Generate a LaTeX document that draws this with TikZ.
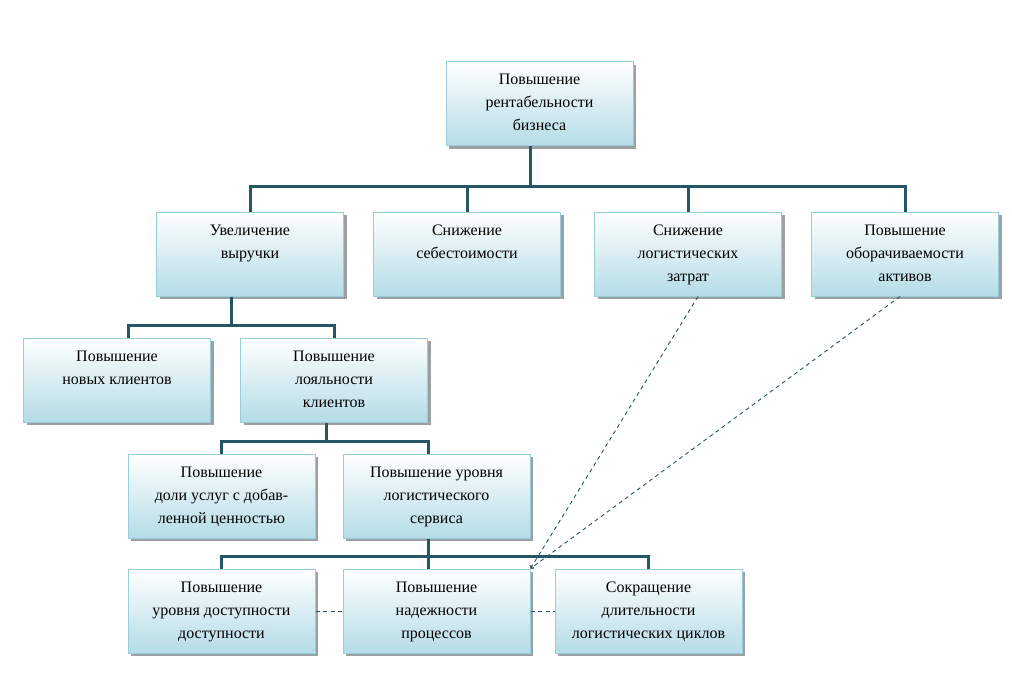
\documentclass[tikz,border=0pt]{standalone}
\usepackage{fontspec}
\setmainfont{Liberation Serif}
\usetikzlibrary{shadows}
\definecolor{boxline}{RGB}{150,206,220}
\definecolor{boxfill}{RGB}{180,220,231}
\definecolor{busline}{RGB}{36,86,99}
\definecolor{shadowgray}{RGB}{155,160,165}
\newcommand{\boxtext}[1]{\parbox[c][84pt][t]{183pt}{\centering\rule{0pt}{23pt}#1}}

\begin{document}
\begin{tikzpicture}[x=1pt,y=-1pt,
  orgbox/.style={draw=boxline, line width=1pt, top color=white, bottom color=boxfill,
    inner sep=0pt, minimum width=187pt, minimum height=84pt,
    font=\fontsize{16}{23}\selectfont,
    drop shadow={shadow xshift=3pt, shadow yshift=-3pt, fill=shadowgray, opacity=1}},
  bus/.style={draw=busline, line width=3pt},
  link/.style={draw=busline, line width=0.9pt, dash pattern=on 4pt off 3.5pt}]
\useasboundingbox (0,0) rectangle (1012,682);

% boxes
\node[orgbox] (goal) at (539.5,104) {\boxtext{Повышение\\ рентабельности\\ бизнеса}};
\node[orgbox] (revenue) at (250,254) {\boxtext{Увеличение\\ выручки}};
\node[orgbox] (cost) at (467,254) {\boxtext{Снижение\\ себестоимости}};
\node[orgbox] (logcost) at (688,254) {\boxtext{Снижение\\ логистических\\ затрат}};
\node[orgbox] (turnover) at (905,254) {\boxtext{Повышение\\ оборачиваемости\\ активов}};
\node[orgbox] (newcl) at (117,380) {\boxtext{Повышение\\ новых клиентов}};
\node[orgbox] (loyal) at (334,380) {\boxtext{Повышение\\ лояльности\\ клиентов}};
\node[orgbox] (share) at (221.5,496) {\boxtext{Повышение\\ доли услуг с добав-\\ ленной ценностью}};
\node[orgbox] (service) at (436.5,496) {\boxtext{Повышение уровня\\ логистического\\ сервиса}};
\node[orgbox] (avail) at (221.5,611) {\boxtext{Повышение\\ уровня доступности\\ доступности}};
\node[orgbox] (reliab) at (436.5,611) {\boxtext{Повышение\\ надежности\\ процессов}};
\node[orgbox] (cycle) at (648.5,611) {\boxtext{Сокращение\\ длительности\\ логистических циклов}};

% tree
\coordinate (b1) at (530,186);
\coordinate (b2) at (231,325);
\coordinate (b3) at (326,441);
\coordinate (b4) at (428,556);
\draw[bus] (b1 |- goal.south) -- (b1);
\draw[bus] (revenue.north) |- (b1) -| (turnover.north);
\draw[bus] (cost.north |- b1) -- (cost.north);
\draw[bus] (logcost.north |- b1) -- (logcost.north);
\draw[bus] (b2 |- revenue.south) -- (b2);
\draw[bus] ([xshift=11pt]newcl.north) |- (b2) -| (loyal.north);
\draw[bus] (b3 |- loyal.south) -- (b3);
\draw[bus] (share.north) |- (b3) -| ([xshift=-8.5pt]service.north);
\draw[bus] (b4 |- service.south) -- (b4);
\draw[bus] (avail.north) |- (b4) -| (cycle.north);
\draw[bus] (b4) -- (b4 |- reliab.north);

% dashed links
\draw[link,->] ([xshift=10pt]logcost.south) -- (reliab.north east);
\draw[link,->] ([xshift=-5pt]turnover.south) -- (reliab.north east);
\draw[link] (avail.east) -- (reliab.west);
\draw[link] (reliab.east) -- (cycle.west);
\end{tikzpicture}
\end{document}
